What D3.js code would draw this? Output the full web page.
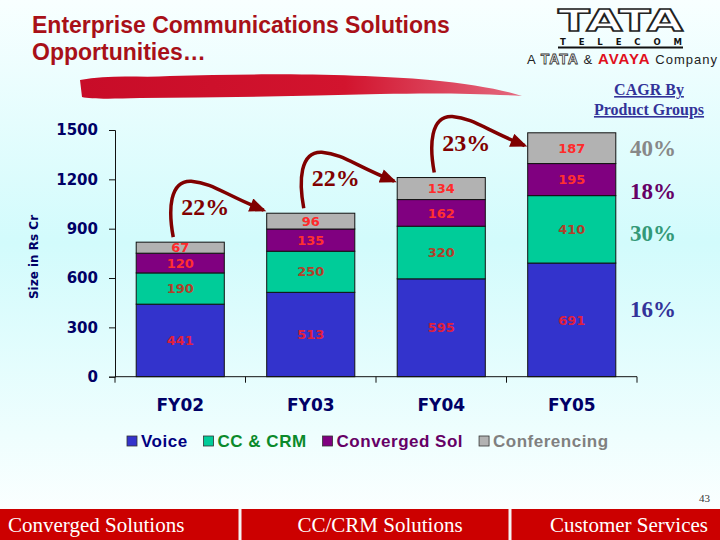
<!DOCTYPE html>
<html>
<head>
<meta charset="utf-8">
<script src="https://cdn.jsdelivr.net/npm/d3@7"></script>
<style>
  body { margin: 0; }
  svg { display: block; }
</style>
</head>
<body>
<svg width="720" height="540"></svg>
<script>
const years = ['FY02', 'FY03', 'FY04', 'FY05'];
const groups = ['Voice', 'CC & CRM', 'Converged Sol', 'Conferencing'];
const voice = [441, 513, 595, 691];
const ccCrm = [190, 250, 320, 410];
const converged = [120, 135, 162, 195];
const conferencing = [67, 96, 134, 187];
const yTicks = [0, 300, 600, 900, 1200, 1500];
const growth = ['22%', '22%', '23%'];
const cagr = ['16%', '30%', '18%', '40%'];
const footer = ['Converged Solutions', 'CC/CRM Solutions', 'Customer Services'];

const fill = ['#3333cc', '#00cc99', '#800080', '#b2b2b2'];
const legendText = ['#000080', '#0b8a2b', '#660066', '#808080'];
const labelColor = ['#e0203c', '#b0402a', '#ff3030', '#ff2a2a'];
const cagrColor = ['#333399', '#339977', '#660066', '#888888'];

const svg = d3.select('svg');

// background
const defs = svg.append('defs');
const bg = defs.append('linearGradient').attr('id', 'bg')
    .attr('x1', 0).attr('y1', 0).attr('x2', 0).attr('y2', 1);
bg.append('stop').attr('offset', '0%').attr('stop-color', '#f8ffff');
bg.append('stop').attr('offset', '45%').attr('stop-color', '#d2fbfc');
bg.append('stop').attr('offset', '80%').attr('stop-color', '#eefefe');
bg.append('stop').attr('offset', '100%').attr('stop-color', '#ffffff');
svg.append('rect').attr('width', 720).attr('height', 540).attr('fill', 'url(#bg)');

const brush = defs.append('linearGradient').attr('id', 'brush');
brush.append('stop').attr('offset', '0%').attr('stop-color', '#c80c28');
brush.append('stop').attr('offset', '60%').attr('stop-color', '#d2142e');
brush.append('stop').attr('offset', '100%').attr('stop-color', '#e46a80');

defs.append('marker').attr('id', 'head')
    .attr('viewBox', '0 0 12 10').attr('refX', 10).attr('refY', 5)
    .attr('markerWidth', 5).attr('markerHeight', 4).attr('orient', 'auto')
  .append('path').attr('d', 'M0,0 L12,5 L0,10 Z').attr('fill', '#800000');

// title
const title = svg.append('g').attr('fill', '#a81018')
    .style('font', 'bold 23px "Liberation Sans", Arial, sans-serif');
title.append('text').attr('x', 32).attr('y', 33).text('Enterprise Communications Solutions');
title.append('text').attr('x', 32).attr('y', 60).text('Opportunities…');

// brush stroke under the title
svg.append('path')
    .attr('d', 'M80,80 C110,74 140,78 170,76 C260,73 360,74 430,80 C470,84 500,89 522,96 C470,93 430,93 380,94 C300,96 220,98 140,98 C110,99 90,99 82,97 Z')
    .attr('fill', 'url(#brush)');

// logo
const logo = svg.append('g');
logo.append('text').attr('x', 558).attr('y', 31)
    .attr('textLength', 125).attr('lengthAdjust', 'spacingAndGlyphs')
    .attr('fill', '#ffffff').attr('stroke', '#222').attr('stroke-width', 1.4)
    .style('font', 'bold 30px "DejaVu Sans", sans-serif').text('TATA');
logo.append('text').attr('x', 560).attr('y', 45)
    .attr('textLength', 122).attr('lengthAdjust', 'spacing')
    .attr('fill', '#111').style('font', 'bold 8.5px "DejaVu Sans", sans-serif')
    .text('TELECOM');
logo.append('line').attr('x1', 558).attr('x2', 683).attr('y1', 47.5).attr('y2', 47.5)
    .attr('stroke', '#111').attr('stroke-width', 2);
const tag = logo.append('text').attr('x', 527).attr('y', 64)
    .attr('textLength', 190).attr('lengthAdjust', 'spacing')
    .style('font', '13px "Liberation Sans", Arial, sans-serif').attr('fill', '#222');
tag.append('tspan').text('A ');
tag.append('tspan').attr('fill', '#fff').attr('stroke', '#333').attr('stroke-width', 0.8)
    .style('font-weight', 'bold').style('font-size', '14px').text('TATA');
tag.append('tspan').text(' & ');
tag.append('tspan').attr('fill', '#e0101c').style('font-weight', 'bold').style('font-size', '15px').text('AVAYA');
tag.append('tspan').text(' Company');

// CAGR heading
const cg = svg.append('g').attr('fill', '#333399')
    .style('font', 'bold 16px "Liberation Serif", "Times New Roman", serif')
    .attr('text-anchor', 'middle').attr('text-decoration', 'underline');
cg.append('text').attr('x', 649).attr('y', 95).text('CAGR By');
cg.append('text').attr('x', 649).attr('y', 115).text('Product Groups');

// scales
const x = d3.scaleBand().domain(years).range([115, 637]);
const y = d3.scaleLinear().domain([0, 1500]).range([376.7, 130]);
const barW = x.bandwidth() * 0.675;

const rows = years.map((yr, i) => ({
  year: yr, Voice: voice[i], 'CC & CRM': ccCrm[i],
  'Converged Sol': converged[i], Conferencing: conferencing[i]
}));
const series = d3.stack().keys(groups)(rows);

const chart = svg.append('g');
series.forEach((s, k) => {
  const g = chart.append('g');
  g.selectAll('rect').data(s).enter().append('rect')
      .attr('x', d => x(d.data.year) + (x.bandwidth() - barW) / 2)
      .attr('y', d => y(d[1]))
      .attr('width', barW)
      .attr('height', d => y(d[0]) - y(d[1]))
      .attr('fill', fill[k]).attr('stroke', '#111').attr('stroke-width', 1);
  g.selectAll('text').data(s).enter().append('text')
      .attr('x', d => x(d.data.year) + x.bandwidth() / 2)
      .attr('y', d => (y(d[0]) + y(d[1])) / 2)
      .attr('dy', '0.36em').attr('text-anchor', 'middle')
      .attr('fill', labelColor[k])
      .style('font', 'bold 13px "DejaVu Sans", sans-serif')
      .text(d => d[1] - d[0]);
});

// y axis
const yAxis = chart.append('g').attr('transform', 'translate(115,0)')
    .call(d3.axisLeft(y).tickValues(yTicks).tickFormat(d3.format('d'))
      .tickSize(6).tickPadding(11));
yAxis.select('.domain').attr('stroke', '#111');
yAxis.selectAll('.tick line').attr('stroke', '#111')
    .filter(d => d === 1500).remove();
yAxis.selectAll('text').attr('fill', '#000066')
    .style('font', 'bold 15px "DejaVu Sans", sans-serif');

svg.append('text')
    .attr('transform', 'translate(38,257) rotate(-90)')
    .attr('text-anchor', 'middle').attr('fill', '#000066')
    .style('font', 'bold 12px "DejaVu Sans", sans-serif')
    .text('Size in Rs Cr');

// x axis
const xAxis = chart.append('g').attr('transform', `translate(0,${y(0)})`);
xAxis.append('line').attr('x1', x.range()[0]).attr('x2', x.range()[1])
    .attr('stroke', '#111');
xAxis.selectAll('.tk').data(years.map(d => x(d)).concat([x.range()[1]]))
  .enter().append('line').attr('class', 'tk')
    .attr('x1', d => d).attr('x2', d => d).attr('y1', 0).attr('y2', 6)
    .attr('stroke', '#111');
xAxis.selectAll('text').data(years).enter().append('text')
    .attr('x', d => x(d) + x.bandwidth() / 2).attr('y', 34)
    .attr('text-anchor', 'middle').attr('fill', '#000066')
    .style('font', 'bold 17px "DejaVu Sans", sans-serif')
    .text(d => d);

// growth arrows between bars
const totals = rows.map(r => groups.reduce((a, g) => a + r[g], 0));
growth.forEach((g, i) => {
  const sx = x(years[i]) + x.bandwidth() / 2 - 7;
  const sy = y(totals[i]) - 5;
  const top = y(totals[i]) - 62;
  const ex = x(years[i + 1]) + (x.bandwidth() - barW) / 2 - 3;
  const ey = top + 30;
  svg.append('path')
      .attr('d', `M${sx},${sy} C${sx - 5},${top + 30} ${sx - 4},${top} ${sx + 18},${top + 1} C${sx + 40},${top + 3} ${ex - 40},${ey - 16} ${ex},${ey}`)
      .attr('fill', 'none').attr('stroke', '#800000').attr('stroke-width', 3.5)
      .attr('marker-end', 'url(#head)');
  svg.append('text').attr('x', sx + 8).attr('y', top + 35)
      .attr('fill', '#800000')
      .style('font', 'bold 24px "Liberation Serif", "Times New Roman", serif')
      .text(g);
});

// CAGR per product group, beside the last bar
const last = years.length - 1;
const cagrDy = [-11, 4, 11, 0];
series.forEach((s, k) => {
  const d = s[last];
  svg.append('text').attr('x', 630)
      .attr('y', (y(d[0]) + y(d[1])) / 2 + cagrDy[k])
      .attr('dy', '0.35em').attr('fill', cagrColor[k])
      .style('font', 'bold 23px "Liberation Serif", "Times New Roman", serif')
      .text(cagr[k]);
});

// legend
const legend = svg.append('g').attr('transform', 'translate(127,441)');
let lx = 0;
groups.forEach((g, k) => {
  legend.append('rect').attr('x', lx).attr('y', -5).attr('width', 10).attr('height', 10)
      .attr('fill', fill[k]).attr('stroke', '#333').attr('stroke-width', 0.8);
  const t = legend.append('text').attr('x', lx + 14).attr('dy', '0.36em')
      .attr('fill', legendText[k]).style('letter-spacing', '0.5px')
      .style('font', 'bold 17px "Liberation Sans", Arial, sans-serif').text(g);
  lx += 14 + t.node().getComputedTextLength() + 16;
});

// footer
svg.append('text').attr('x', 710).attr('y', 502).attr('text-anchor', 'end')
    .attr('fill', '#333').style('font', '11px "Liberation Serif", serif').text('43');
svg.append('rect').attr('x', 0).attr('y', 509).attr('width', 720).attr('height', 31)
    .attr('fill', '#cc0000');
[240, 510].forEach(v => svg.append('rect').attr('x', v - 1.5).attr('y', 509)
    .attr('width', 3).attr('height', 31).attr('fill', '#f4f4f4'));
const ft = svg.append('g').attr('fill', '#ffffff')
    .style('font', '21px "Liberation Serif", "Times New Roman", serif');
ft.append('text').attr('x', 8).attr('y', 532).text(footer[0]);
ft.append('text').attr('x', 380).attr('y', 532).attr('text-anchor', 'middle').text(footer[1]);
ft.append('text').attr('x', 708).attr('y', 532).attr('text-anchor', 'end').text(footer[2]);
</script>
</body>
</html>
